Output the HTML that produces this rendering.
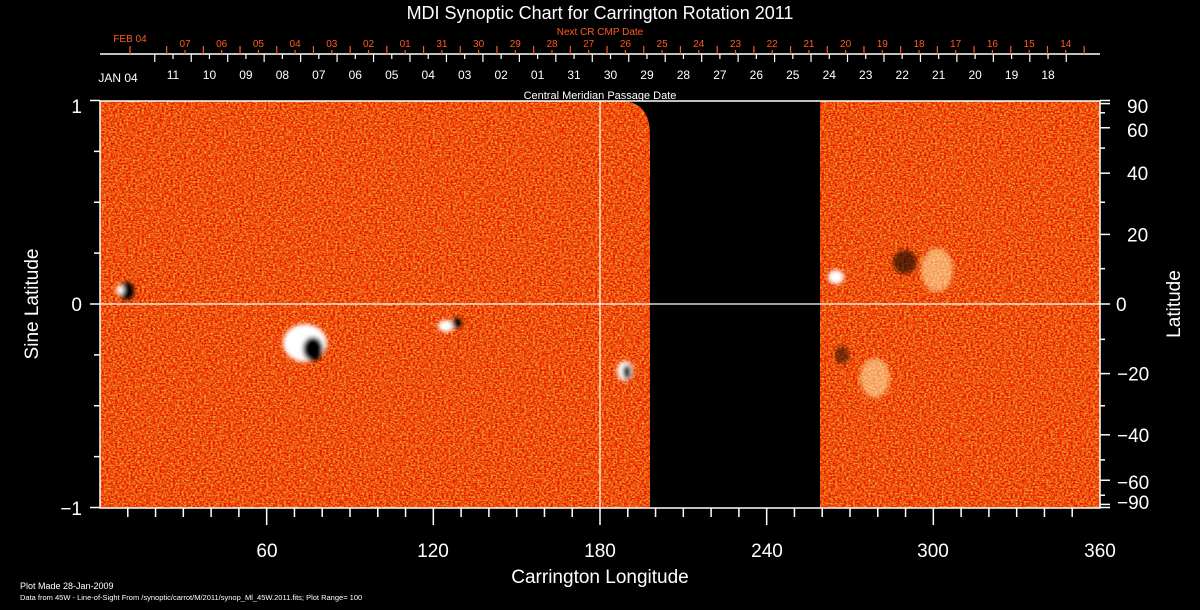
<!DOCTYPE html>
<html><head><meta charset="utf-8"><style>
html,body{margin:0;padding:0;background:#000;}
svg{display:block;}
text{font-family:"Liberation Sans",sans-serif;}
</style></head><body>
<svg width="1200" height="610" viewBox="0 0 1200 610" xmlns="http://www.w3.org/2000/svg">
<defs>
<filter id="nz" x="0" y="0" width="100%" height="100%" color-interpolation-filters="sRGB">
<feTurbulence type="fractalNoise" baseFrequency="0.45 0.6" numOctaves="2" seed="3"/>
<feColorMatrix type="matrix" values="0 0 0 0 0.93  1.3 0 0 0 -0.33  0.5 0 0 0 -0.2  0 0 0 0 1"/>
</filter>
<filter id="bl"><feGaussianBlur stdDeviation="2"/></filter>
<clipPath id="lc"><path d="M100,101 H620 Q650,101 650,135 V508 H100 Z"/></clipPath>
</defs>
<rect width="1200" height="610" fill="#000"/>
<text x="600" y="19" fill="#fff" font-size="18" text-anchor="middle">MDI Synoptic Chart for Carrington Rotation 2011</text>
<text x="600" y="35" fill="#ff5a1e" font-size="10" text-anchor="middle">Next CR CMP Date</text>
<text x="130" y="42" fill="#ff5a1e" font-size="10" text-anchor="middle">FEB 04</text>
<line x1="100" y1="54" x2="1100" y2="54" stroke="#fff" stroke-width="1.5"/>
<g id="top"></g>
<text x="118" y="82" fill="#fff" font-size="12" text-anchor="middle">JAN 04</text>
<text x="600" y="99" fill="#fff" font-size="11" text-anchor="middle">Central Meridian Passage Date</text>
<g fill="#fff" font-size="12" text-anchor="middle" id="wl"></g>
<g fill="#ff5a1e" font-size="10" text-anchor="middle" id="ol"></g>
<g clip-path="url(#lc)"><rect x="100" y="101" width="550" height="407" filter="url(#nz)"/></g>
<rect x="820" y="101" width="280" height="407" filter="url(#nz)"/>
<!-- spots -->
<g filter="url(#bl)">
<ellipse cx="305" cy="343" rx="22" ry="19" fill="#fff"/>
<ellipse cx="313" cy="349" rx="10" ry="12" fill="#000"/>
<ellipse cx="127" cy="291" rx="7" ry="9" fill="#000"/>
<ellipse cx="120" cy="290" rx="4" ry="5" fill="#fff"/>
<ellipse cx="446" cy="326" rx="8" ry="6" fill="#fff"/>
<ellipse cx="457" cy="323" rx="5" ry="5" fill="#000"/>
<ellipse cx="625" cy="371" rx="8" ry="10" fill="#fff"/>
<ellipse cx="627" cy="372" rx="4" ry="7" fill="#000"/>
<ellipse cx="905" cy="262" rx="12" ry="12" fill="#000" opacity="0.6"/>
<ellipse cx="937" cy="270" rx="16" ry="22" fill="#fff3b0" opacity="0.55"/>
<ellipse cx="836" cy="277" rx="8" ry="7" fill="#fff"/>
<ellipse cx="875" cy="378" rx="15" ry="20" fill="#fff3b0" opacity="0.55"/>
<ellipse cx="842" cy="355" rx="7" ry="9" fill="#000" opacity="0.5"/>
</g>
<!-- frame -->
<rect x="100" y="101" width="1000" height="407" fill="none" stroke="#fff" stroke-width="1.5"/>
<line x1="100" y1="304" x2="1100" y2="304" stroke="#fff" stroke-width="1.2"/>
<line x1="600" y1="101" x2="600" y2="508" stroke="#fff" stroke-width="1.2"/>
<g stroke="#fff" stroke-width="1.5" id="ax"></g>
<g fill="#fff" font-size="19" text-anchor="middle">
<text x="267" y="557">60</text><text x="433" y="557">120</text><text x="600" y="557">180</text>
<text x="767" y="557">240</text><text x="933" y="557">300</text><text x="1100" y="557">360</text>
</g>
<text x="600" y="583" fill="#fff" font-size="19" text-anchor="middle">Carrington Longitude</text>
<g fill="#fff" font-size="19" text-anchor="end">
<text x="82" y="113">1</text><text x="82" y="311">0</text><text x="82" y="515">−1</text>
</g>
<text transform="translate(38,304) rotate(-90)" fill="#fff" font-size="19" text-anchor="middle">Sine Latitude</text>
<text transform="translate(1180,304) rotate(-90)" fill="#fff" font-size="19" text-anchor="middle">Latitude</text>
<g fill="#fff" font-size="19" id="rl"></g>
<text x="20" y="589" fill="#fff" font-size="9">Plot Made 28-Jan-2009</text>
<text x="20" y="600" fill="#fff" font-size="7.5">Data from 45W - Line-of-Sight From /synoptic/carrot/M/2011/synop_Ml_45W.2011.fits; Plot Range= 100</text>
</svg>
<script>
var NS="http://www.w3.org/2000/svg";
function el(p,t,a,txt){var e=document.createElementNS(NS,t);for(var k in a)e.setAttribute(k,a[k]);if(txt)e.textContent=txt;document.getElementById(p).appendChild(e);}
var d=36.46;
var wl=["11","10","09","08","07","06","05","04","03","02","01","31","30","29","28","27","26","25","24","23","22","21","20","19","18"];
for(var i=0;i<wl.length;i++){var x=173+i*d;
 el("top","line",{x1:x,y1:54,x2:x,y2:59,stroke:"#fff","stroke-width":1.2});
 el("top","line",{x1:x-d/2,y1:54,x2:x-d/2,y2:62,stroke:"#fff","stroke-width":1.2});
 el("wl","text",{x:x,y:79},wl[i]);}
el("top","line",{x1:173+24.5*d,y1:54,x2:173+24.5*d,y2:62,stroke:"#fff","stroke-width":1.2});
var ol=["07","06","05","04","03","02","01","31","30","29","28","27","26","25","24","23","22","21","20","19","18","17","16","15","14"];
var od=36.7;
el("top","line",{x1:130,y1:54,x2:130,y2:46,stroke:"#ff5a1e","stroke-width":1.2});
for(var i=0;i<ol.length;i++){var x=185+i*od;
 el("top","line",{x1:x,y1:54,x2:x,y2:50,stroke:"#ff5a1e","stroke-width":1.2});
 el("top","line",{x1:x-od/2,y1:54,x2:x-od/2,y2:46,stroke:"#ff5a1e","stroke-width":1.2});
 el("ol","text",{x:x,y:47},ol[i]);}
el("top","line",{x1:185+24.5*od,y1:54,x2:185+24.5*od,y2:46,stroke:"#ff5a1e","stroke-width":1.2});
for(var l=10;l<360;l+=10){var x=100+l*1000/360;var maj=(l%60==0);
 el("ax","line",{x1:x,y1:508,x2:x,y2:maj?525:517});}
for(var s=-1;s<=1.001;s+=0.25){var y=304-203.5*s;var maj=Math.abs(s%1)<0.01||Math.abs(Math.abs(s)-1)<0.01;
 el("ax","line",{x1:maj?90:94,y1:y,x2:100,y2:y});}
for(var la=-90;la<=90;la+=10){var y=304-203.5*Math.sin(la*Math.PI/180);var maj=(la%20==0)||Math.abs(la)==90||Math.abs(la)==60;
 el("ax","line",{x1:1100,y1:y,x2:maj?1110:1105,y2:y});}
var rl=[90,60,40,20,0,-20,-40,-60,-90];
for(var i=0;i<rl.length;i++){var la=rl[i];var y=304-203.5*Math.sin(la*Math.PI/180);
 if(la==90)y=106;if(la==-90)y=502;if(la==60)y=130;if(la==-60)y=482;
 el("rl","text",{x:la==0?1116:(la<0?1117:1127),y:y+7},la<0?"\u2212"+(-la):""+la);}
</script>
</body></html>
